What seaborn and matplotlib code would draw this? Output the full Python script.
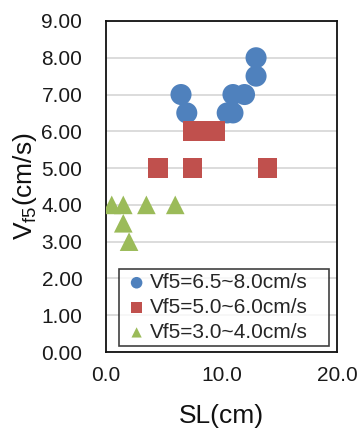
import pandas as pd
import seaborn as sns
import matplotlib.pyplot as plt
from matplotlib.ticker import FormatStrFormatter

# data
blue_sl = [6.5, 7.0, 10.5, 11.0, 11.0, 12.0, 13.0, 13.0]
blue_vf = [7.0, 6.5, 6.5, 6.5, 7.0, 7.0, 7.5, 8.0]

red_sl = [7.5, 8.3, 9.0, 9.5, 4.5, 7.5, 14.0]
red_vf = [6.0, 6.0, 6.0, 6.0, 5.0, 5.0, 5.0]

green_sl = [0.5, 1.5, 3.5, 6.0, 1.5, 2.0]
green_vf = [4.0, 4.0, 4.0, 4.0, 3.5, 3.0]

labels = ["Vf5=6.5~8.0cm/s", "Vf5=5.0~6.0cm/s", "Vf5=3.0~4.0cm/s"]
colors = ["#4F81BD", "#C0504D", "#9BBB59"]
markers = ["o", "s", "^"]
sizes = [230, 200, 180]

x_ticks = [0, 10, 20]
y_ticks = [0, 1, 2, 3, 4, 5, 6, 7, 8, 9]

sns.set_style("white")
plt.rcParams["font.family"] = ["Liberation Sans", "DejaVu Sans"]
plt.rcParams["mathtext.fontset"] = "custom"
plt.rcParams["mathtext.rm"] = "Liberation Sans"

fig = plt.figure(figsize=(3.58, 4.37), dpi=100)
ax = fig.add_axes([0.296, 0.1945, 0.645, 0.7575])

groups = [(blue_sl, blue_vf), (red_sl, red_vf), (green_sl, green_vf)]
for (xs, ys), lab, c, m, s in zip(groups, labels, colors, markers, sizes):
    df = pd.DataFrame({"SL": xs, "Vf5": ys})
    sns.scatterplot(data=df, x="SL", y="Vf5", ax=ax, color=c, marker=m, s=s,
                    edgecolor="none", linewidth=0, label=lab, zorder=3)

ax.set_xlim(0, 20)
ax.set_ylim(0, 9)
ax.set_xticks(x_ticks)
ax.set_yticks(y_ticks)
ax.xaxis.set_major_formatter(FormatStrFormatter("%.1f"))
ax.yaxis.set_major_formatter(FormatStrFormatter("%.2f"))
ax.tick_params(length=0, labelsize=15, colors="#1a1a1a")
ax.tick_params(axis="y", pad=17)
ax.tick_params(axis="x", pad=10)
ax.yaxis.grid(True, color="#D9D9D9", linewidth=1.3)
ax.xaxis.grid(False)
ax.set_axisbelow(True)
for sp in ax.spines.values():
    sp.set_color("#111111")
    sp.set_linewidth(1.3)

ax.set_xlabel("SL(cm)", fontsize=19, labelpad=14, color="#111111")
ax.set_ylabel(r"V$_{\mathregular{f5}}$(cm/s)", fontsize=19, labelpad=2, color="#111111")

leg = ax.legend(loc="lower left", bbox_to_anchor=(0.056, 0.018, 0.909, 0.232),
                mode="expand", fontsize=15, frameon=True, fancybox=False,
                handletextpad=0.0, handlelength=1.3, borderpad=0.2,
                labelspacing=0.28, markerscale=0.55, borderaxespad=0)
leg.get_frame().set_edgecolor("#111111")
leg.get_frame().set_linewidth(1.2)

fig.savefig("out.png", dpi=100)
